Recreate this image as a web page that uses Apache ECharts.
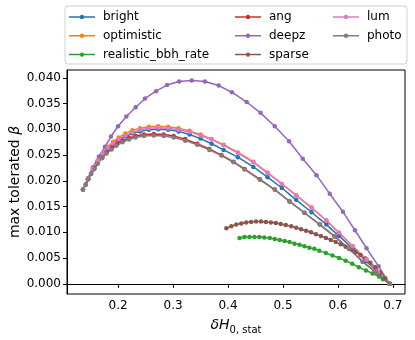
<!DOCTYPE html>
<html>
<head>
<meta charset="utf-8">
<script src="https://cdn.jsdelivr.net/npm/echarts@6/dist/echarts.min.js"></script>
<style>
  html, body { margin: 0; padding: 0; background: #fff; }
  #my_chart { width: 415px; height: 340px; }
</style>
</head>
<body>
<div id="my_chart"></div>
<script>
  // values
  var clusterX = [0.136, 0.145, 0.154, 0.163, 0.172, 0.181, 0.191, 0.201, 0.213, 0.226, 0.240, 0.256, 0.273, 0.291, 0.310, 0.330,
    0.350, 0.370, 0.392, 0.418, 0.446, 0.472, 0.498, 0.524, 0.552, 0.579, 0.602, 0.627, 0.652, 0.673, 0.694];
  var brightY = [0.0183, 0.0203, 0.0222, 0.0238, 0.0251, 0.0262, 0.0271, 0.0279, 0.0286, 0.0292, 0.0296, 0.0299, 0.0300, 0.0299, 0.0296, 0.0290,
    0.0282, 0.0272, 0.0260, 0.0246, 0.0227, 0.0207, 0.0186, 0.0163, 0.0139, 0.0115, 0.0093, 0.0068, 0.0044, 0.0021, 0];
  var optimisticY = [0.0183, 0.0204, 0.0223, 0.0240, 0.0254, 0.0266, 0.0276, 0.0284, 0.0292, 0.0298, 0.0302, 0.0305, 0.0306, 0.0305, 0.0302, 0.0297,
    0.0290, 0.0281, 0.0270, 0.0255, 0.0237, 0.0216, 0.0194, 0.0172, 0.0148, 0.0123, 0.0099, 0.0073, 0.0047, 0.0023, 0];
  var lumY = [0.0183, 0.0204, 0.0223, 0.0239, 0.0253, 0.0264, 0.0273, 0.0281, 0.0288, 0.0294, 0.0299, 0.0302, 0.0303, 0.0302, 0.0299, 0.0295,
    0.0288, 0.0280, 0.0269, 0.0254, 0.0236, 0.0215, 0.0194, 0.0172, 0.0148, 0.0123, 0.0099, 0.0073, 0.0047, 0.0023, 0];

  var photoX = [0.136, 0.141, 0.146, 0.151, 0.157, 0.163, 0.171, 0.179, 0.188, 0.197, 0.208, 0.220, 0.232, 0.247, 0.265, 0.283, 0.301,
    0.322, 0.344, 0.366, 0.388, 0.410, 0.430, 0.458, 0.485, 0.512, 0.539, 0.567, 0.594, 0.620, 0.645, 0.670, 0.694];
  var photoY = [0.0183, 0.0192, 0.0203, 0.0213, 0.0223, 0.0233, 0.0244, 0.0253, 0.0261, 0.0268, 0.0275, 0.0280, 0.0284, 0.0287, 0.0288, 0.0287, 0.0284,
    0.0278, 0.0270, 0.0260, 0.0249, 0.0236, 0.0222, 0.0202, 0.0183, 0.0160, 0.0138, 0.0115, 0.0092, 0.0068, 0.0043, 0.0021, 0];
  var angY = [0.0183, 0.0193, 0.0204, 0.0214, 0.0225, 0.0235, 0.0246, 0.0255, 0.0263, 0.0271, 0.0278, 0.0283, 0.0287, 0.0290, 0.0291, 0.0290, 0.0287,
    0.0281, 0.0272, 0.0262, 0.0250, 0.0237, 0.0223, 0.0203, 0.0183, 0.0160, 0.0138, 0.0115, 0.0092, 0.0068, 0.0043, 0.0021, 0];

  var deepzX = [0.136, 0.145, 0.154, 0.165, 0.176, 0.187, 0.200, 0.215, 0.232, 0.249, 0.269, 0.289, 0.311, 0.334, 0.358, 0.383,
    0.407, 0.434, 0.459, 0.485, 0.511, 0.536, 0.561, 0.585, 0.609, 0.631, 0.652, 0.674, 0.694];
  var deepzY = [0.0183, 0.0205, 0.0226, 0.0247, 0.0266, 0.0286, 0.0306, 0.0325, 0.0343, 0.0360, 0.0374, 0.0386, 0.0393, 0.0395, 0.0393, 0.0385,
    0.0372, 0.0353, 0.0332, 0.0306, 0.0277, 0.0243, 0.0211, 0.0175, 0.0140, 0.0104, 0.0069, 0.0034, 0];

  var sparseX = [0.397, 0.406, 0.415, 0.424, 0.433, 0.442, 0.451, 0.460, 0.469, 0.478, 0.487, 0.496, 0.505, 0.515, 0.524, 0.533, 0.542,
    0.551, 0.560, 0.569, 0.578, 0.587, 0.596, 0.605, 0.614, 0.623, 0.632, 0.641, 0.650, 0.659, 0.668, 0.677, 0.686, 0.694];
  var sparseY = [0.0108, 0.0112, 0.0115, 0.0117, 0.0119, 0.0120, 0.0121, 0.0121, 0.0120, 0.0119, 0.0118, 0.0116, 0.0114, 0.0112, 0.0109, 0.0106, 0.0103,
    0.0100, 0.0096, 0.0093, 0.0089, 0.0085, 0.0081, 0.0077, 0.0072, 0.0067, 0.0062, 0.0056, 0.0049, 0.0041, 0.0032, 0.0022, 0.0011, 0];

  var realisticX = [0.421, 0.430, 0.439, 0.448, 0.457, 0.466, 0.476, 0.485, 0.494, 0.503, 0.512, 0.521, 0.530, 0.539, 0.548, 0.557,
    0.566, 0.578, 0.590, 0.602, 0.614, 0.626, 0.638, 0.651, 0.663, 0.675, 0.682, 0.694];
  var realisticY = [0.0089, 0.0091, 0.0091, 0.0091, 0.0091, 0.0090, 0.0089, 0.0087, 0.0085, 0.0083, 0.0081, 0.0078, 0.0076, 0.0073, 0.0070, 0.0068,
    0.0064, 0.0060, 0.0055, 0.0050, 0.0045, 0.0039, 0.0032, 0.0026, 0.0020, 0.0014, 0.0009, 0];

  var xTicks = [0.2, 0.3, 0.4, 0.5, 0.6, 0.7];
  var yTicks = [0, 0.005, 0.01, 0.015, 0.02, 0.025, 0.03, 0.035, 0.04];

  var seriesDefs = [
    ['bright', clusterX, brightY, '#1f77b4'],
    ['optimistic', clusterX, optimisticY, '#ff7f0e'],
    ['realistic_bbh_rate', realisticX, realisticY, '#2ca02c'],
    ['ang', photoX, angY, '#d62728'],
    ['deepz', deepzX, deepzY, '#9467bd'],
    ['sparse', sparseX, sparseY, '#8c564b'],
    ['lum', clusterX, lumY, '#e377c2'],
    ['photo', photoX, photoY, '#7f7f7f']
  ];

  var font = 'DejaVu Sans';
  // legend handle: a line with a small dot in the middle (26 x 14 box)
  var legendIcon = 'path://M0,0M26,14M0,6.25L26,6.25L26,7.75L0,7.75ZM15.2,7A2.2,2.2,0,1,1,10.8,7A2.2,2.2,0,1,1,15.2,7Z';

  var series = seriesDefs.map(function (d) {
    return {
      name: d[0],
      type: 'line',
      data: d[1].map(function (x, i) { return [x, d[2][i]]; }),
      symbol: 'circle',
      symbolSize: 4.5,
      color: d[3],
      lineStyle: { width: 1.5, color: d[3] },
      itemStyle: { color: d[3] }
    };
  });

  function legendCol(names, left) {
    return {
      data: names.map(function (n) { return { name: n, icon: legendIcon }; }),
      orient: 'vertical',
      left: left,
      top: 10,
      padding: 0,
      itemGap: 4.8,
      itemWidth: 26,
      itemHeight: 14,
      textStyle: { fontFamily: font, fontSize: 12, color: '#000', lineHeight: 14, padding: [0, 0, 0, 3] }
    };
  }

  var my_chart = echarts.init(document.getElementById('my_chart'));
  my_chart.setOption({
    animation: false,
    backgroundColor: '#fff',
    grid: {
      left: 67, right: 10, top: 70, bottom: 46, outerBoundsMode: 'none', containLabel: false,
      show: true, borderColor: '#000', borderWidth: 1
    },
    graphic: [{
      type: 'rect',
      shape: { x: 65, y: 6, width: 342, height: 58, r: 3 },
      style: { fill: 'rgba(255,255,255,0.8)', stroke: '#d0d0d0', lineWidth: 1 },
      z: -1
    }],
    legend: [
      legendCol(['bright', 'optimistic', 'realistic_bbh_rate'], 69),
      legendCol(['ang', 'deepz', 'sparse'], 235),
      legendCol(['lum', 'photo'], 333)
    ],
    xAxis: {
      type: 'value',
      min: 0.107,
      max: 0.722,
      splitLine: { show: false },
      axisLine: { show: true, lineStyle: { color: '#000' } },
      axisTick: { show: true, customValues: xTicks, length: 4, lineStyle: { color: '#000' } },
      axisLabel: {
        customValues: xTicks, color: '#000', fontFamily: font, fontSize: 12, margin: 6,
        formatter: function (v) { return v.toFixed(1); }
      },
      name: '{a|δH}{b|0, stat}',
      nameLocation: 'middle',
      nameMoveOverlap: false,
      nameGap: 21,
      nameTextStyle: {
        rich: {
          a: { fontFamily: font, fontSize: 14, fontStyle: 'italic', color: '#000', lineHeight: 20 },
          b: { fontFamily: font, fontSize: 10, color: '#000', verticalAlign: 'bottom' }
        }
      }
    },
    yAxis: {
      type: 'value',
      min: -0.00198,
      max: 0.04152,
      splitLine: { show: false },
      axisLine: { show: true, lineStyle: { color: '#000' } },
      axisTick: { show: true, customValues: yTicks, length: 4, lineStyle: { color: '#000' } },
      axisLabel: {
        customValues: yTicks, color: '#000', fontFamily: font, fontSize: 12, margin: 6,
        formatter: function (v) { return v.toFixed(3); }
      },
      name: '{a|max tolerated }{b|β}',
      nameLocation: 'middle',
      nameRotate: 90,
      nameMoveOverlap: false,
      nameGap: 45,
      nameTextStyle: {
        rich: {
          a: { fontFamily: font, fontSize: 14, color: '#000' },
          b: { fontFamily: font, fontSize: 14, fontStyle: 'italic', color: '#000' }
        }
      }
    },
    series: series
  });
</script>
</body>
</html>
